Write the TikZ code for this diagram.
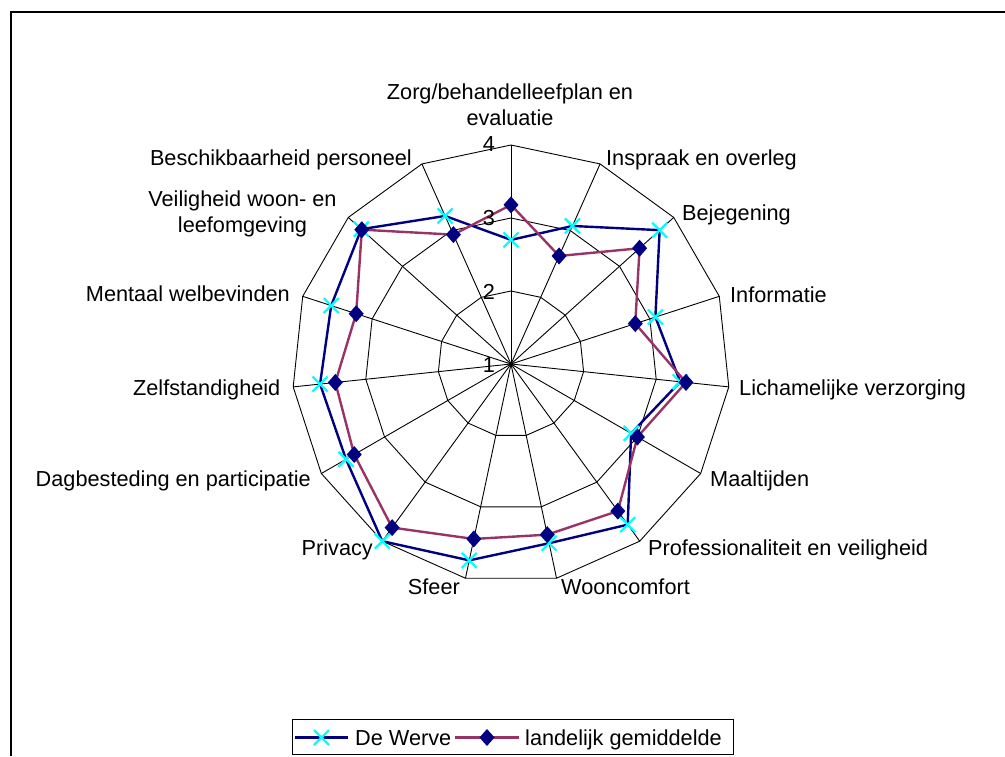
\documentclass[tikz,border=0pt]{standalone}
\usepackage{fontspec}
\setmainfont{Liberation Sans}
\definecolor{navyc}{RGB}{0,0,128}
\definecolor{maroonc}{RGB}{153,51,102}
\definecolor{cyanc}{RGB}{0,255,255}
\begin{document}
\begin{tikzpicture}[x=1pt,y=1pt,
  font=\fontsize{21.7}{26}\selectfont,
  grid/.style={black, line width=0.9pt},
  werveline/.style={draw=navyc, line width=2.4pt, line join=round},
  landline/.style={draw=maroonc, line width=2.4pt, line join=round},
  lblE/.style={inner sep=0pt, anchor=base west},
  lblW/.style={inner sep=0pt, anchor=base east},
  lblC/.style={inner sep=0pt, anchor=base},
  xm/.pic={\draw[cyanc, line width=2.2pt] (-7.5,-7.5) -- (7.5,7.5) (-7.5,7.5) -- (7.5,-7.5);},
  dm/.pic={\fill[navyc] (0,8.5) -- (7.5,0) -- (0,-8.5) -- (-7.5,0) -- cycle;}
]
\useasboundingbox (0,0) rectangle (1005,-756);
\fill[white] (0,0) rectangle (1005,-756);
\draw[line width=1.3pt] (11,-756) -- (11,-12) -- (1005,-12);

\begin{scope}[shift={(511,-364)}]
  \coordinate (O) at (0,0);
  % web
  \foreach \r in {73,146,219} {
    \draw[grid] (90:\r) \foreach \k in {1,...,14} { -- ({90-24*\k}:\r) } -- cycle;
  }
  \foreach \k in {0,...,14} {
    \coordinate (s\k) at ({90-24*\k}:219);
    \draw[grid] (O) -- (s\k);
  }
  \fill (O) circle (2pt);
  % data
  \foreach \v [count=\k from 0] in {2.70,3.07,3.74,3.08,3.33,2.90,3.72,3.51,3.75,4.00,3.61,3.63,3.59,3.76,3.22}
    \coordinate (w\k) at ({90-24*\k}:{(\v-1)*73});
  \foreach \v [count=\k from 0] in {3.18,2.62,3.37,2.79,3.41,3.00,3.49,3.39,3.45,3.77,3.48,3.42,3.23,3.75,2.94}
    \coordinate (l\k) at ({90-24*\k}:{(\v-1)*73});
  \draw[werveline] (w0) -- (w1) -- (w2) -- (w3) -- (w4) -- (w5) -- (w6) -- (w7) -- (w8) -- (w9) -- (w10) -- (w11) -- (w12) -- (w13) -- (w14) -- cycle;
  \foreach \k in {0,...,14} \pic at (w\k) {xm};
  \draw[landline] (l0) -- (l1) -- (l2) -- (l3) -- (l4) -- (l5) -- (l6) -- (l7) -- (l8) -- (l9) -- (l10) -- (l11) -- (l12) -- (l13) -- (l14) -- cycle;
  \foreach \k in {0,...,14} \pic at (l\k) {dm};
\end{scope}

% tick labels
\node[lblC] (t4) at (489,-151.7) {4};
\node[lblC] (t3) at (489,-225.5) {3};
\node[lblC] (t2) at (489,-299) {2};
\node[lblC] (t1) at (489,-372.5) {1};

% axis labels
\node[lblC] (a0a) at (510,-99.3) {Zorg/behandelleefplan en};
\node[lblC] (a0b) at (510,-125.3) {evaluatie};
\node[lblE] (a1) at (606,-165) {Inspraak en overleg};
\node[lblE] (a2) at (682,-220.7) {Bejegening};
\node[lblE] (a3) at (730,-302) {Informatie};
\node[lblE] (a4) at (739,-395.5) {Lichamelijke verzorging};
\node[lblE] (a5) at (710,-486) {Maaltijden};
\node[lblE] (a6) at (648,-555) {Professionaliteit en veiligheid};
\node[lblE] (a7) at (561,-594) {Wooncomfort};
\node[lblW] (a8) at (460,-594) {Sfeer};
\node[lblW] (a9) at (373,-555) {Privacy};
\node[lblW] (a10) at (311,-486) {Dagbesteding en participatie};
\node[lblW] (a11) at (280.5,-395.5) {Zelfstandigheid};
\node[lblW] (a12) at (290,-301.7) {Mentaal welbevinden};
\node[lblC] (a13a) at (242.5,-206) {Veiligheid woon- en};
\node[lblC] (a13b) at (242.5,-232) {leefomgeving};
\node[lblW] (a14) at (412,-165) {Beschikbaarheid personeel};

% legend
\draw[line width=1pt] (292,-719) rectangle (733,-754.5);
\coordinate (lw1) at (295,-737.5);
\coordinate (lw2) at (348,-737.5);
\draw[draw=navyc, line width=2.4pt] (lw1) -- (lw2);
\pic at (321.5,-737.5) {xm};
\node[lblE] (lt1) at (355,-745) {De Werve};
\coordinate (ll1) at (455,-737.5);
\coordinate (ll2) at (519,-737.5);
\draw[draw=maroonc, line width=2.4pt] (ll1) -- (ll2);
\pic at (487,-737.5) {dm};
\node[lblE] (lt2) at (525,-745) {landelijk gemiddelde};
\end{tikzpicture}
\end{document}
